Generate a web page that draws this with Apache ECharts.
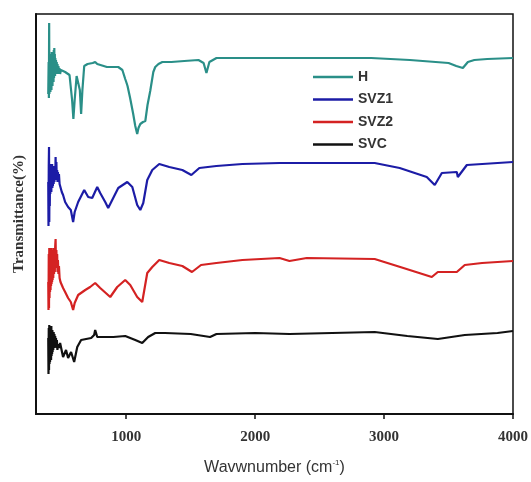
<!DOCTYPE html>
<html><head><meta charset="utf-8">
<script src="https://cdn.jsdelivr.net/npm/echarts@6/dist/echarts.min.js"></script>
<style>html,body{margin:0;padding:0;background:#fff}#c{width:531px;height:482px}</style>
</head><body><div id="c"></div>
<script>
// wavenumber (cm^-1), transmittance (a.u., offset curves)
const seriesNames = ['H', 'SVZ1', 'SVZ2', 'SVC'];
const xTicks = [1000, 2000, 3000, 4000];
const H = [[395,80],[398,88],[400,79],[402,97.75],[404,80],[406,90],[408,81],[410,89],[412,80.5],[414,90],[416,82],[418,89.5],[420,81],[422,90.5],[424,83],[426,89],[428,82],[430,90],[432,84],[434,88.5],[436,83],[438,91],[440,84],[442,91.5],[444,85],[446,90],[448,84.5],[450,89],[452,85],[455,88.5],[458,85.5],[461,88],[464,85],[467,87.5],[470,85],[474,87],[478,85.5],[482,86.5],[487,85],[493,86],[500,85.5],[526,85.5],[560,84.75],[580,78.5],[590,73.75],[600,78.5],[615,84.5],[627,85],[640,81],[650,75],[660,81],[674,87],[700,87.5],[740,87.75],[759,88],[775,87.5],[850,86.75],[938,86.75],[970,86],[992,83.75],[1000,83],[1010,82],[1016,81.75],[1030,79],[1054,75],[1070,72],[1085,70],[1095,71.5],[1109,72.5],[1130,73],[1148,73.25],[1165,77.25],[1186,80.75],[1210,85.5],[1225,86.75],[1250,87.5],[1280,88],[1350,88],[1450,88.25],[1560,88.5],[1600,87.75],[1622,85.25],[1645,88],[1700,89],[2000,89],[2500,89],[2900,89],[3200,88.5],[3400,88],[3500,87.75],[3560,87],[3611,86.5],[3650,88],[3700,88.5],[3800,88.75],[4000,89]];
const SVZ1 = [[395,58],[397,47],[399,62],[401,66.75],[403,48],[405,61],[407,52],[409,62],[411,55],[413,62.5],[415,56],[417,61.5],[419,55.5],[421,62],[423,57],[425,62.5],[427,56.5],[429,61.5],[431,57],[434,62],[437,57.5],[440,61],[443,58],[446,61.5],[449,58.5],[452,64.25],[455,59],[458,63],[461,58.5],[464,61],[467,58],[470,60.5],[474,58],[478,60],[483,57.5],[490,57],[500,55.5],[510,54.75],[526,53],[549,51.75],[570,51],[588,48],[600,50.5],[627,53],[674,56],[705,54.25],[736,54],[775,56.75],[798,55.25],[837,53],[860,51.5],[899,54],[938,56.5],[1008,58],[1047,56.75],[1085,52.25],[1109,51],[1132,52.75],[1163,58.5],[1202,61],[1256,62.5],[1334,61.75],[1435,61],[1505,59.75],[1567,61.5],[1699,62],[1901,62.5],[2189,62.75],[2927,62.75],[3121,61.5],[3331,59.25],[3393,57.25],[3448,60.25],[3564,60.5],[3572,59.25],[3642,62.25],[4000,63]];
const SVZ2 = [[395,33],[397,26],[399,40],[401,26.5],[403,41.5],[405,29],[407,40.5],[409,30.5],[411,41],[413,31],[415,40],[417,32],[419,41.5],[421,32.5],[423,40.5],[425,33],[427,41],[429,33.5],[431,40],[434,34],[437,41.5],[440,35],[443,40.5],[446,35.5],[449,42],[452,43.75],[455,37],[458,41],[461,36.5],[464,40],[467,35.5],[470,38.5],[474,35],[478,37],[483,34],[490,33],[500,32.25],[510,31.5],[526,30.5],[549,29],[570,28],[588,26],[600,27.75],[627,29.75],[682,31],[720,31.75],[759,32.75],[798,31.5],[876,29.25],[930,31.75],[992,33.5],[1031,32.25],[1085,29.25],[1124,28],[1163,35.25],[1202,36.75],[1256,38.5],[1334,37.75],[1435,37],[1510,35.5],[1580,37.25],[1699,37.75],[1901,38.5],[2189,39],[2266,38.25],[2400,39],[2927,38.75],[3150,36.5],[3370,34.25],[3417,35.5],[3564,35.5],[3572,35.25],[3626,37.25],[3760,37.75],[4000,38.25]];
const SVC = [[395,19],[397,10],[399,21.5],[401,11],[403,22.25],[405,12.5],[407,21],[409,13],[411,21.5],[413,14],[415,21],[417,13.5],[419,22],[421,14.5],[423,20.5],[425,15],[427,21],[429,15.5],[431,20],[434,16],[437,20.5],[440,16.5],[443,20],[446,17],[449,19.5],[452,17],[455,19],[458,16.5],[462,18.5],[466,16],[470,17.5],[478,16.5],[487,17.75],[510,14.25],[533,16],[549,14],[572,15.5],[596,13],[620,16.75],[650,18.5],[728,19],[751,19.75],[759,21],[775,19.25],[900,19.25],[992,19.5],[1070,18.5],[1124,17.75],[1170,19.25],[1225,20.25],[1300,20.25],[1500,20],[1650,19.25],[1700,20],[2000,20.25],[2266,20],[2927,20.5],[3180,19.5],[3417,18.75],[3626,19.75],[3880,20.25],[4000,20.75]];
const colors = ['#2a8f88', '#1c1ca6', '#d42222', '#111111'];
const datasets = [H, SVZ1, SVZ2, SVC];

const chart = echarts.init(document.getElementById('c'));
chart.setOption({
  animation: false,
  grid: {left: 36, right: 18, top: 14, bottom: 68, show: true, borderColor: '#111', borderWidth: 1.5, outerBoundsMode: 'none', containLabel: false},
  legend: {
    orient: 'vertical', left: 308, top: 65, itemWidth: 40, itemHeight: 2.5, itemGap: 8.5, icon: 'rect',
    textStyle: {fontFamily: 'Liberation Sans, Arial', fontWeight: 'bold', fontSize: 14, color: '#333'},
    data: seriesNames
  },
  xAxis: {
    type: 'value', min: 300, max: 4000,
    name: 'Wavwnumber (cm{sup|-1})', nameLocation: 'middle', nameGap: 45,
    nameTextStyle: {fontFamily: 'Liberation Sans, Arial', fontSize: 16, color: '#333',
      rich: {sup: {fontSize: 8, verticalAlign: 'top', padding: [0,0,9,0], color: '#333'}}},
    axisLine: {show: true, lineStyle: {color: '#111', width: 2}},
    axisTick: {show: true, length: 5, customValues: xTicks, lineStyle: {color: '#111', width: 1.5}},
    axisLabel: {customValues: xTicks, formatter: v => String(v), margin: 16, fontFamily: 'Liberation Serif, Times New Roman', fontWeight: 'bold', fontSize: 15, color: '#333'},
    splitLine: {show: false}
  },
  yAxis: {
    type: 'value', min: 0, max: 100,
    name: 'Transmittance(%)', nameLocation: 'middle', nameGap: 9,
    nameTextStyle: {fontFamily: 'Liberation Serif, Times New Roman', fontWeight: 'bold', fontSize: 15, color: '#333'},
    axisLine: {show: true, lineStyle: {color: '#111', width: 2}},
    axisTick: {show: false}, axisLabel: {show: false}, splitLine: {show: false}
  },
  series: seriesNames.map((n, i) => ({
    name: n, type: 'line', data: datasets[i], showSymbol: false, symbol: 'none',
    lineStyle: {color: colors[i], width: 2.2}, itemStyle: {color: colors[i]}
  }))
});
</script></body></html>
